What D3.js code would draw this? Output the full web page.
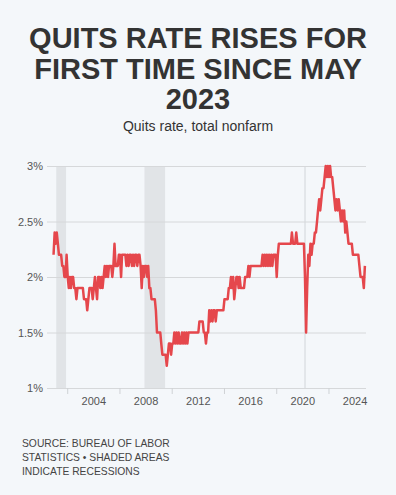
<!DOCTYPE html>
<html>
<head>
<meta charset="utf-8">
<script src="https://cdn.jsdelivr.net/npm/d3@7"></script>
<style>
  body { margin: 0; background: #f4f7fa; }
  svg { display: block; font-family: "Liberation Sans", Arial, sans-serif; }
</style>
</head>
<body>
<script>
// monthly quits rate (%), total nonfarm, starting Dec 2000
const firstMonth = "2000-12";
const quitsRate = [
  2.2,
  2.4, 2.3, 2.4, 2.3, 2.2, 2.2, 2.2, 2.1, 2.1, 2.0, 2.0, 2.2, // 2001
  2.0, 1.9, 2.0, 1.9, 2.0, 2.0, 1.9, 1.9, 1.8, 1.9, 1.9, 1.9, // 2002
  1.9, 1.9, 1.9, 1.8, 1.8, 1.8, 1.7, 1.8, 1.9, 1.9, 1.9, 1.8, // 2003
  1.9, 2.0, 1.9, 1.8, 2.0, 2.0, 1.9, 2.0, 1.9, 2.0, 2.1, 2.0, // 2004
  2.1, 2.0, 2.1, 2.1, 2.1, 2.0, 2.1, 2.3, 2.1, 2.1, 2.1, 2.2, // 2005
  2.2, 2.0, 2.2, 2.2, 2.2, 2.2, 2.1, 2.2, 2.1, 2.2, 2.2, 2.1, // 2006
  2.2, 2.1, 2.2, 2.2, 2.1, 2.2, 2.2, 2.1, 1.9, 2.1, 2.0, 2.1, // 2007
  2.1, 2.0, 2.1, 1.9, 1.9, 1.8, 1.8, 1.8, 1.8, 1.7, 1.5, 1.5, // 2008
  1.5, 1.5, 1.4, 1.3, 1.3, 1.3, 1.3, 1.2, 1.3, 1.4, 1.4, 1.3, // 2009
  1.4, 1.4, 1.5, 1.4, 1.5, 1.4, 1.5, 1.4, 1.4, 1.5, 1.4, 1.5, // 2010
  1.4, 1.5, 1.4, 1.5, 1.5, 1.5, 1.5, 1.5, 1.5, 1.5, 1.5, 1.5, // 2011
  1.5, 1.6, 1.6, 1.6, 1.6, 1.5, 1.5, 1.4, 1.5, 1.5, 1.7, 1.6, // 2012
  1.7, 1.6, 1.7, 1.7, 1.6, 1.7, 1.7, 1.7, 1.7, 1.7, 1.7, 1.7, // 2013
  1.8, 1.8, 1.8, 1.8, 1.9, 1.9, 2.0, 1.9, 2.0, 1.8, 1.9, 2.0, // 2014
  2.0, 1.9, 2.0, 1.9, 1.9, 1.9, 1.9, 2.0, 2.0, 2.0, 2.1, 2.0, // 2015
  2.1, 2.1, 2.1, 2.1, 2.1, 2.1, 2.1, 2.1, 2.1, 2.1, 2.1, 2.2, // 2016
  2.1, 2.2, 2.1, 2.2, 2.1, 2.2, 2.1, 2.2, 2.1, 2.2, 2.2, 2.2, // 2017
  2.0, 2.2, 2.3, 2.3, 2.3, 2.3, 2.3, 2.3, 2.3, 2.3, 2.3, 2.3, // 2018
  2.3, 2.3, 2.4, 2.3, 2.3, 2.3, 2.4, 2.3, 2.3, 2.3, 2.3, 2.3, // 2019
  2.3, 2.3, 2.0, 1.5, 1.9, 2.2, 2.1, 2.3, 2.2, 2.3, 2.3, 2.4, // 2020
  2.4, 2.5, 2.6, 2.7, 2.6, 2.7, 2.8, 2.8, 2.9, 3.0, 2.9, 3.0, // 2021
  2.9, 3.0, 2.9, 2.9, 2.8, 2.7, 2.6, 2.7, 2.6, 2.7, 2.6, 2.5, // 2022
  2.6, 2.5, 2.6, 2.4, 2.5, 2.4, 2.3, 2.3, 2.3, 2.3, 2.2, 2.2, // 2023
  2.2, 2.2, 2.2, 2.2, 2.1, 2.0, 2.0, 2.0, 1.9, 2.1            // 2024
];

// recession periods (start, end)
const recessions = [
  ["2001-03-01", "2001-11-30"],
  ["2007-12-01", "2009-06-30"],
  ["2020-02-20", "2020-04-10"]
];

const yTicks = [1, 1.5, 2, 2.5, 3];
const xLabelYears = [2004, 2008, 2012, 2016, 2020, 2024];
const xTickYears = [2002, 2006, 2010, 2014, 2018, 2022];

const titleLines = ["QUITS RATE RISES FOR", "FIRST TIME SINCE MAY", "2023"];
const subtitle = "Quits rate, total nonfarm";
const sourceLines = ["SOURCE: BUREAU OF LABOR", "STATISTICS \u2022 SHADED AREAS", "INDICATE RECESSIONS"];

const width = 396;
const height = 495;
const margin = { top: 166, right: 30, bottom: 107, left: 47 };

const parseMonth = d3.timeParse("%Y-%m");
const parseDay = d3.timeParse("%Y-%m-%d");
const start = parseMonth(firstMonth);
const data = quitsRate.map((v, i) => ({
  date: d3.timeDay.offset(d3.timeMonth.offset(start, i), 14),
  value: v
}));

const svg = d3.select("body").append("svg")
  .attr("width", width)
  .attr("height", height);

svg.append("rect")
  .attr("width", width)
  .attr("height", height)
  .attr("fill", "#f4f7fa");

// titles
svg.append("g").selectAll("text")
  .data(titleLines)
  .join("text")
  .attr("x", width / 2)
  .attr("y", (d, i) => 48 + i * 30.5)
  .attr("text-anchor", "middle")
  .attr("font-size", "29px")
  .attr("font-weight", "bold")
  .attr("fill", "#333")
  .text(d => d);

svg.append("text")
  .attr("x", width / 2)
  .attr("y", 131)
  .attr("text-anchor", "middle")
  .attr("font-size", "14px")
  .attr("fill", "#333")
  .text(subtitle);

// scales
const x = d3.scaleTime()
  .domain([new Date(2000, 5, 15), new Date(2024, 10, 15)])
  .range([margin.left, width - margin.right]);

const y = d3.scaleLinear()
  .domain([1, 3])
  .range([height - margin.bottom, margin.top]);

// recession shading
svg.append("g").selectAll("rect")
  .data(recessions)
  .join("rect")
  .attr("x", d => x(parseDay(d[0])))
  .attr("width", d => x(parseDay(d[1])) - x(parseDay(d[0])))
  .attr("y", y(3))
  .attr("height", y(1) - y(3))
  .attr("fill", "#e1e4e7");

// y axis with gridlines
const yAxis = svg.append("g")
  .attr("transform", `translate(${margin.left},0)`)
  .call(d3.axisLeft(y)
    .tickValues(yTicks)
    .tickFormat(d => d + "%")
    .tickSize(-(width - margin.left - margin.right))
    .tickPadding(4));
yAxis.select(".domain").remove();
yAxis.selectAll(".tick line").attr("stroke", "#d6d8da").attr("stroke-width", 1);
yAxis.selectAll(".tick text")
  .attr("font-size", "11px")
  .attr("fill", "#555")
  .attr("font-family", "Liberation Sans, Arial, sans-serif");

// x axis: tick marks between labels
const xTickAxis = svg.append("g")
  .attr("transform", `translate(0,${y(1)})`)
  .call(d3.axisBottom(x)
    .tickValues(xTickYears.map(yr => new Date(yr, 0, 1)))
    .tickFormat("")
    .tickSize(6));
xTickAxis.select(".domain").remove();
xTickAxis.selectAll(".tick line").attr("stroke", "#cfd2d5");

const xAxis = svg.append("g")
  .attr("transform", `translate(0,${y(1)})`)
  .call(d3.axisBottom(x)
    .tickValues(xLabelYears.map(yr => new Date(yr, 0, 1)))
    .tickFormat(d3.timeFormat("%Y"))
    .tickSize(0)
    .tickPadding(9));
xAxis.select(".domain").remove();
xAxis.selectAll(".tick text")
  .attr("font-size", "11px")
  .attr("fill", "#555")
  .attr("font-family", "Liberation Sans, Arial, sans-serif");

// the line
const line = d3.line()
  .x(d => x(d.date))
  .y(d => y(d.value));

svg.append("path")
  .datum(data)
  .attr("fill", "none")
  .attr("stroke", "#e5474c")
  .attr("stroke-width", 2.5)
  .attr("stroke-linejoin", "round")
  .attr("d", line);

// source note
svg.append("g").selectAll("text")
  .data(sourceLines)
  .join("text")
  .attr("x", 22)
  .attr("y", (d, i) => 447 + i * 14)
  .attr("font-size", "10.3px")
  .attr("fill", "#444")
  .text(d => d);
</script>
</body>
</html>
